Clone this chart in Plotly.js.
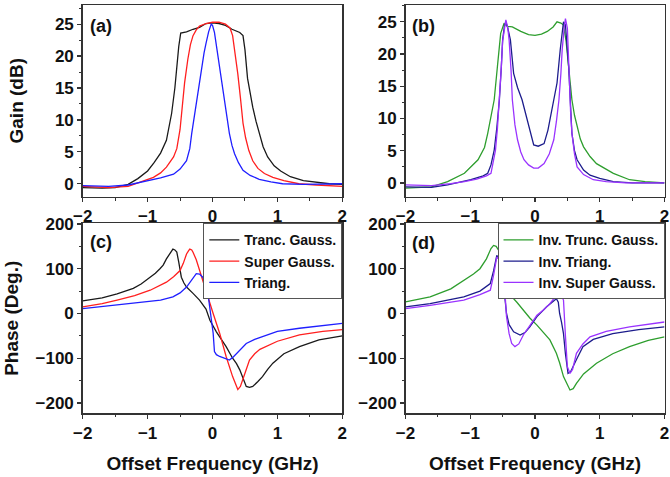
<!DOCTYPE html>
<html>
<head>
<meta charset="utf-8">
<script src="https://cdn.plot.ly/plotly-3.0.1.min.js"></script>
<style>html,body{margin:0;padding:0;background:#fff;}#chart{width:670px;height:477px;}</style>
</head>
<body>
<div id="chart"></div>
<script>
// ---- Panel (a): Gain (dB) ----
const gainTruncX = [-2, -1.7, -1.5, -1.3, -1.15, -1.0, -0.9, -0.8, -0.71, -0.63, -0.58, -0.55, -0.52, -0.49, -0.4, -0.3, -0.2, -0.1, 0, 0.1, 0.2, 0.3, 0.42, 0.47, 0.5, 0.54, 0.58, 0.62, 0.67, 0.72, 0.78, 0.85, 0.95, 1.05, 1.2, 1.4, 1.6, 1.8, 2];
const gainTruncY = [-0.6, -0.7, -0.6, -0.1, 0.8, 2.0, 3.3, 4.8, 6.8, 11, 15, 18.4, 21.5, 23.6, 23.8, 24.2, 24.5, 25.1, 25.2, 25.1, 24.8, 24.2, 23.7, 23.2, 21, 16.5, 14, 12, 9.8, 7.9, 5.8, 4.2, 2.8, 2.0, 1.1, 0.5, 0.2, 0.0, -0.1];
const gainSuperX = [-2, -1.6, -1.3, -1.1, -0.91, -0.8, -0.71, -0.6, -0.55, -0.5, -0.46, -0.43, -0.38, -0.34, -0.3, -0.25, -0.2, -0.1, 0, 0.1, 0.2, 0.27, 0.31, 0.35, 0.39, 0.43, 0.47, 0.51, 0.56, 0.62, 0.7, 0.8, 0.93, 1.1, 1.33, 1.6, 2];
const gainSuperY = [-0.4, -0.6, -0.4, 0.3, 1.0, 1.7, 2.6, 4.2, 5.5, 8.5, 12.5, 15.8, 19.5, 21.8, 23.2, 24.1, 24.7, 25.1, 25.3, 25.3, 25.0, 24.4, 23.2, 20.5, 17.2, 13.5, 9.5, 7.2, 5.2, 3.6, 2.4, 1.6, 1.0, 0.5, 0.0, -0.2, -0.4];
const gainTriX = [-2, -1.6, -1.3, -0.96, -0.8, -0.6, -0.5, -0.4, -0.35, -0.32, -0.28, -0.25, -0.21, -0.17, -0.13, -0.1, -0.06, -0.02, 0.0, 0.03, 0.07, 0.11, 0.15, 0.19, 0.23, 0.26, 0.3, 0.34, 0.4, 0.47, 0.58, 0.72, 0.9, 1.08, 1.4, 2];
const gainTriY = [-0.3, -0.4, -0.2, 0.5, 0.9, 1.5, 2.3, 3.6, 5.5, 7.9, 10.5, 13, 15.8, 18.4, 20.5, 22, 23.8, 25, 24.8, 23.7, 21, 18.4, 15.8, 13.1, 10.3, 7.9, 6.0, 4.7, 3.3, 2.1, 1.3, 0.7, 0.3, 0.0, -0.1, 0.0];

// ---- Panel (b): Gain (dB), inverted profiles ----
const gainInvTruncX = [-2, -1.6, -1.35, -1.09, -0.88, -0.78, -0.73, -0.68, -0.63, -0.58, -0.53, -0.48, -0.42, -0.35, -0.22, -0.1, 0, 0.1, 0.19, 0.28, 0.34, 0.4, 0.44, 0.48, 0.52, 0.57, 0.61, 0.65, 0.7, 0.75, 0.85, 0.95, 1.08, 1.21, 1.46, 1.7, 2];
const gainInvTruncY = [-0.8, -0.6, 0.2, 1.5, 3.6, 5.5, 7.7, 10.2, 12.9, 18.1, 23.2, 24.7, 24.3, 24.2, 23.5, 23.0, 22.9, 23.1, 23.5, 24.2, 25.0, 24.8, 24.5, 22, 18, 12.9, 10.5, 8.7, 6.8, 5.6, 4.1, 3.0, 2.2, 1.5, 0.5, 0.2, 0.0];
const gainInvTriX = [-2, -1.6, -1.35, -0.99, -0.8, -0.73, -0.68, -0.63, -0.59, -0.55, -0.52, -0.5, -0.47, -0.45, -0.42, -0.38, -0.33, -0.27, -0.2, -0.13, -0.07, -0.02, 0.05, 0.14, 0.2, 0.24, 0.3, 0.34, 0.39, 0.42, 0.44, 0.47, 0.52, 0.57, 0.61, 0.65, 0.75, 0.85, 1.0, 1.21, 1.5, 2];
const gainInvTriY = [-0.6, -0.7, -0.3, 0.5, 1.1, 1.5, 2.8, 5.1, 8.5, 12.9, 18, 22.2, 24.5, 25.0, 24, 22.2, 17, 14.8, 12.9, 10.2, 7.7, 5.9, 5.7, 6.1, 8.2, 10.3, 13, 15.5, 20.7, 23.5, 25, 24.5, 18, 7.7, 5.0, 3.6, 2.0, 1.2, 0.7, 0.2, 0.0, 0.0];
const gainInvSuperX = [-2, -1.6, -1.3, -1.09, -0.9, -0.75, -0.68, -0.61, -0.58, -0.55, -0.52, -0.5, -0.47, -0.45, -0.42, -0.4, -0.37, -0.35, -0.31, -0.27, -0.22, -0.17, -0.1, -0.02, 0.05, 0.14, 0.22, 0.29, 0.33, 0.37, 0.4, 0.42, 0.45, 0.47, 0.5, 0.52, 0.55, 0.57, 0.61, 0.65, 0.75, 0.9, 1.1, 1.4, 2];
const gainInvSuperY = [-0.3, -0.4, -0.1, 0.2, 0.6, 1.1, 1.5, 5.1, 8.5, 12.9, 18, 22, 24.5, 25.3, 24, 22.2, 17.5, 12.9, 9, 6.7, 4.8, 3.6, 2.8, 2.3, 2.3, 3.0, 4.5, 6.7, 9.5, 12.9, 17, 20.7, 24, 25.5, 24, 18, 11, 7.7, 4.5, 2.5, 1.3, 0.5, 0.2, 0.0, 0.0];

// ---- Panel (c): Phase (Deg.) ----
const phaseTruncX = [-2, -1.7, -1.47, -1.22, -1.1, -0.96, -0.88, -0.81, -0.76, -0.71, -0.66, -0.61, -0.58, -0.55, -0.52, -0.48, -0.44, -0.4, -0.3, -0.2, -0.1, -0.04, 0.06, 0.15, 0.21, 0.31, 0.37, 0.42, 0.47, 0.52, 0.57, 0.62, 0.7, 0.77, 0.85, 0.93, 1.1, 1.34, 1.64, 2];
const phaseTruncY = [28, 35, 44, 56, 66, 81, 90, 100, 108, 122, 134, 144, 142, 137, 115, 81, 68, 59, 45, 30, 10, -15, -41, -60, -74, -100, -112, -126, -145, -163, -165, -163, -152, -141, -125, -111, -90, -74, -59, -50];
const phaseSuperX = [-2, -1.7, -1.47, -1.2, -0.96, -0.71, -0.6, -0.5, -0.45, -0.4, -0.37, -0.35, -0.32, -0.3, -0.25, -0.2, -0.15, -0.09, 0.01, 0.11, 0.21, 0.31, 0.36, 0.39, 0.43, 0.47, 0.52, 0.57, 0.65, 0.73, 0.83, 1.0, 1.34, 1.7, 2];
const phaseSuperY = [15, 22, 30, 40, 52, 70, 82, 96, 112, 133, 140, 144, 142, 137, 120, 96, 72, 44, 0, -44, -96, -141, -162, -170, -163, -148, -125, -104, -90, -80, -74, -62, -48, -40, -36];
const phaseTriX = [-2, -1.47, -0.96, -0.8, -0.61, -0.5, -0.4, -0.33, -0.25, -0.2, -0.15, -0.1, -0.07, -0.03, 0.01, 0.03, 0.06, 0.11, 0.18, 0.26, 0.32, 0.37, 0.45, 0.52, 0.65, 0.83, 1.0, 1.34, 1.7, 2];
const phaseTriY = [11, 19, 26, 30, 37, 46, 59, 74, 89, 88, 81, 66, 44, 0, -44, -85, -92, -96, -100, -104, -97, -89, -76, -67, -58, -48, -40, -33, -27, -22];

// ---- Panel (d): Phase (Deg.), inverted profiles ----
const phaseInvTruncX = [-2, -1.62, -1.3, -1.1, -0.95, -0.85, -0.75, -0.68, -0.64, -0.6, -0.56, -0.52, -0.49, -0.44, -0.38, -0.28, -0.18, -0.08, 0.03, 0.13, 0.23, 0.33, 0.38, 0.44, 0.49, 0.54, 0.59, 0.64, 0.75, 0.95, 1.2, 1.46, 1.75, 2];
const phaseInvTruncY = [26, 37, 55, 74, 88, 100, 122, 145, 152, 150, 141, 115, 82, 55, 41, 25, 7, -10, -26, -42, -59, -89, -110, -141, -158, -171, -168, -156, -135, -111, -90, -74, -60, -52];
const phaseInvTriX = [-2, -1.62, -1.1, -0.85, -0.69, -0.64, -0.59, -0.57, -0.54, -0.51, -0.47, -0.44, -0.4, -0.33, -0.23, -0.15, -0.08, 0.03, 0.18, 0.28, 0.33, 0.36, 0.38, 0.41, 0.44, 0.47, 0.51, 0.55, 0.59, 0.65, 0.74, 0.9, 1.2, 1.6, 2];
const phaseInvTriY = [15, 22, 37, 50, 67, 95, 130, 125, 115, 97, 45, 0, -25, -41, -48, -42, -30, -7, 15, 28, 33, 25, 0, -20, -45, -90, -134, -130, -119, -100, -74, -58, -45, -36, -30];
const phaseInvSuperX = [-2, -1.62, -1.1, -0.85, -0.69, -0.64, -0.59, -0.56, -0.53, -0.51, -0.47, -0.44, -0.4, -0.36, -0.31, -0.25, -0.18, -0.08, 0.03, 0.13, 0.23, 0.3, 0.35, 0.38, 0.41, 0.44, 0.47, 0.5, 0.54, 0.58, 0.64, 0.74, 0.85, 1.1, 1.46, 1.75, 2];
const phaseInvSuperY = [11, 18, 30, 42, 52, 85, 126, 122, 115, 112, 60, -7, -45, -67, -74, -68, -48, -28, -4, 8, 22, 35, 45, 48, 40, 30, -50, -119, -134, -125, -89, -68, -52, -40, -30, -24, -19];

const namesLeft = ['Tranc. Gauss.', 'Super Gauss.', 'Triang.'];
const namesRight = ['Inv. Trunc. Gauss.', 'Inv. Triang.', 'Inv. Super Gauss.'];
const panelLabels = ['(a)', '(b)', '(c)', '(d)'];
const xTitle = 'Offset Frequency (GHz)';
const gainTitle = 'Gain (dB)';
const phaseTitle = 'Phase (Deg.)';

const cBlack = '#1a1a1a', cRed = '#ff1f1f', cBlue = '#1f1fff';
const cGreen = '#2e9e2e', cNavy = '#1c1c8c', cPurple = '#9a33ff';

function tr(x, y, color, xa, ya, name, legend, show) {
  return {x: x, y: y, type: 'scatter', mode: 'lines', name: name || '',
    xaxis: xa, yaxis: ya, line: {color: color, width: 1.3},
    showlegend: !!show, legend: legend || 'legend', hoverinfo: 'skip'};
}

const data = [
  tr(gainTruncX, gainTruncY, cBlack, 'x', 'y'),
  tr(gainSuperX, gainSuperY, cRed, 'x', 'y'),
  tr(gainTriX, gainTriY, cBlue, 'x', 'y'),
  tr(gainInvTruncX, gainInvTruncY, cGreen, 'x2', 'y2'),
  tr(gainInvTriX, gainInvTriY, cNavy, 'x2', 'y2'),
  tr(gainInvSuperX, gainInvSuperY, cPurple, 'x2', 'y2'),
  tr(phaseTruncX, phaseTruncY, cBlack, 'x3', 'y3', namesLeft[0], 'legend', true),
  tr(phaseSuperX, phaseSuperY, cRed, 'x3', 'y3', namesLeft[1], 'legend', true),
  tr(phaseTriX, phaseTriY, cBlue, 'x3', 'y3', namesLeft[2], 'legend', true),
  tr(phaseInvTruncX, phaseInvTruncY, cGreen, 'x4', 'y4', namesRight[0], 'legend2', true),
  tr(phaseInvTriX, phaseInvTriY, cNavy, 'x4', 'y4', namesRight[1], 'legend2', true),
  tr(phaseInvSuperX, phaseInvSuperY, cPurple, 'x4', 'y4', namesRight[2], 'legend2', true)
];

const W = 670, H = 477;
const colL = [82.7 / W, 342.3 / W];
const colR = [405.5 / W, 664.5 / W];
const rowT = [1 - 196.5 / H, 1 - 5 / H];
const rowB = [1 - 413.3 / H, 1 - 223.3 / H];
const FAM = 'Liberation Sans, Arial, sans-serif';
const tickFont = {family: FAM, size: 17, color: '#111', weight: 'bold'};
const titleFont = {family: FAM, size: 19, color: '#111', weight: 'bold'};

function xax(domain, anchor, withTitle) {
  const a = {domain: domain, anchor: anchor, range: [-2, 2], dtick: 1, tick0: 0,
    ticks: 'outside', ticklen: 4, tickwidth: 1.3, tickcolor: '#333',
    showline: true, linecolor: '#333', linewidth: 1.5, mirror: true,
    showgrid: false, zeroline: false, tickfont: tickFont,
    minor: {dtick: 0.5, ticks: 'outside', ticklen: 2.5, tickcolor: '#333', tickwidth: 1}};
  if (withTitle) a.title = {text: xTitle, font: titleFont, standoff: 14};
  return a;
}
function yax(domain, anchor, range, dt, title, standoff) {
  const a = {domain: domain, anchor: anchor, range: range, dtick: dt, tick0: 0,
    ticks: 'outside', ticklen: 4, tickwidth: 1.3, tickcolor: '#333',
    showline: true, linecolor: '#333', linewidth: 1.5, mirror: true,
    showgrid: false, zeroline: false, tickfont: tickFont,
    minor: {dtick: dt / 2, ticks: 'outside', ticklen: 2.5, tickcolor: '#333', tickwidth: 1}};
  if (title) a.title = {text: title, font: titleFont, standoff: standoff};
  return a;
}

const legendFont = {family: FAM, size: 14, color: '#111', weight: 'bold'};
const layout = {
  width: W, height: H,
  margin: {l: 0, r: 0, t: 0, b: 0},
  paper_bgcolor: '#fff', plot_bgcolor: '#fff',
  xaxis: xax(colL, 'y', false),
  yaxis: yax(rowT, 'x', [-2, 28], 5, gainTitle, 26),
  xaxis2: xax(colR, 'y2', false),
  yaxis2: yax(rowT, 'x2', [-2.1, 27.6], 5, null),
  xaxis3: xax(colL, 'y3', true),
  yaxis3: yax(rowB, 'x3', [-223, 201.5], 100, phaseTitle, 12),
  xaxis4: xax(colR, 'y4', true),
  yaxis4: yax(rowB, 'x4', [-223, 201.5], 100, null),
  legend: {x: colL[1], xanchor: 'right', y: rowB[1], yanchor: 'top',
    bgcolor: '#fff', bordercolor: '#555', borderwidth: 1, font: legendFont,
    tracegroupgap: 0, itemwidth: 30},
  legend2: {x: colR[1], xanchor: 'right', y: rowB[1], yanchor: 'top',
    bgcolor: '#fff', bordercolor: '#555', borderwidth: 1, font: legendFont,
    tracegroupgap: 0, itemwidth: 30},
  annotations: [
    {text: panelLabels[0], xref: 'paper', yref: 'paper', x: 88 / W, y: 1 - 26 / H},
    {text: panelLabels[1], xref: 'paper', yref: 'paper', x: 410 / W, y: 1 - 26 / H},
    {text: panelLabels[2], xref: 'paper', yref: 'paper', x: 88 / W, y: 1 - 242 / H},
    {text: panelLabels[3], xref: 'paper', yref: 'paper', x: 410 / W, y: 1 - 243 / H}
  ].map(a => Object.assign(a, {xanchor: 'left', yanchor: 'middle', showarrow: false,
    font: {family: FAM, size: 18, color: '#111', weight: 'bold'}}))
};

Plotly.newPlot('chart', data, layout, {displayModeBar: false, staticPlot: true});
</script>
</body>
</html>
